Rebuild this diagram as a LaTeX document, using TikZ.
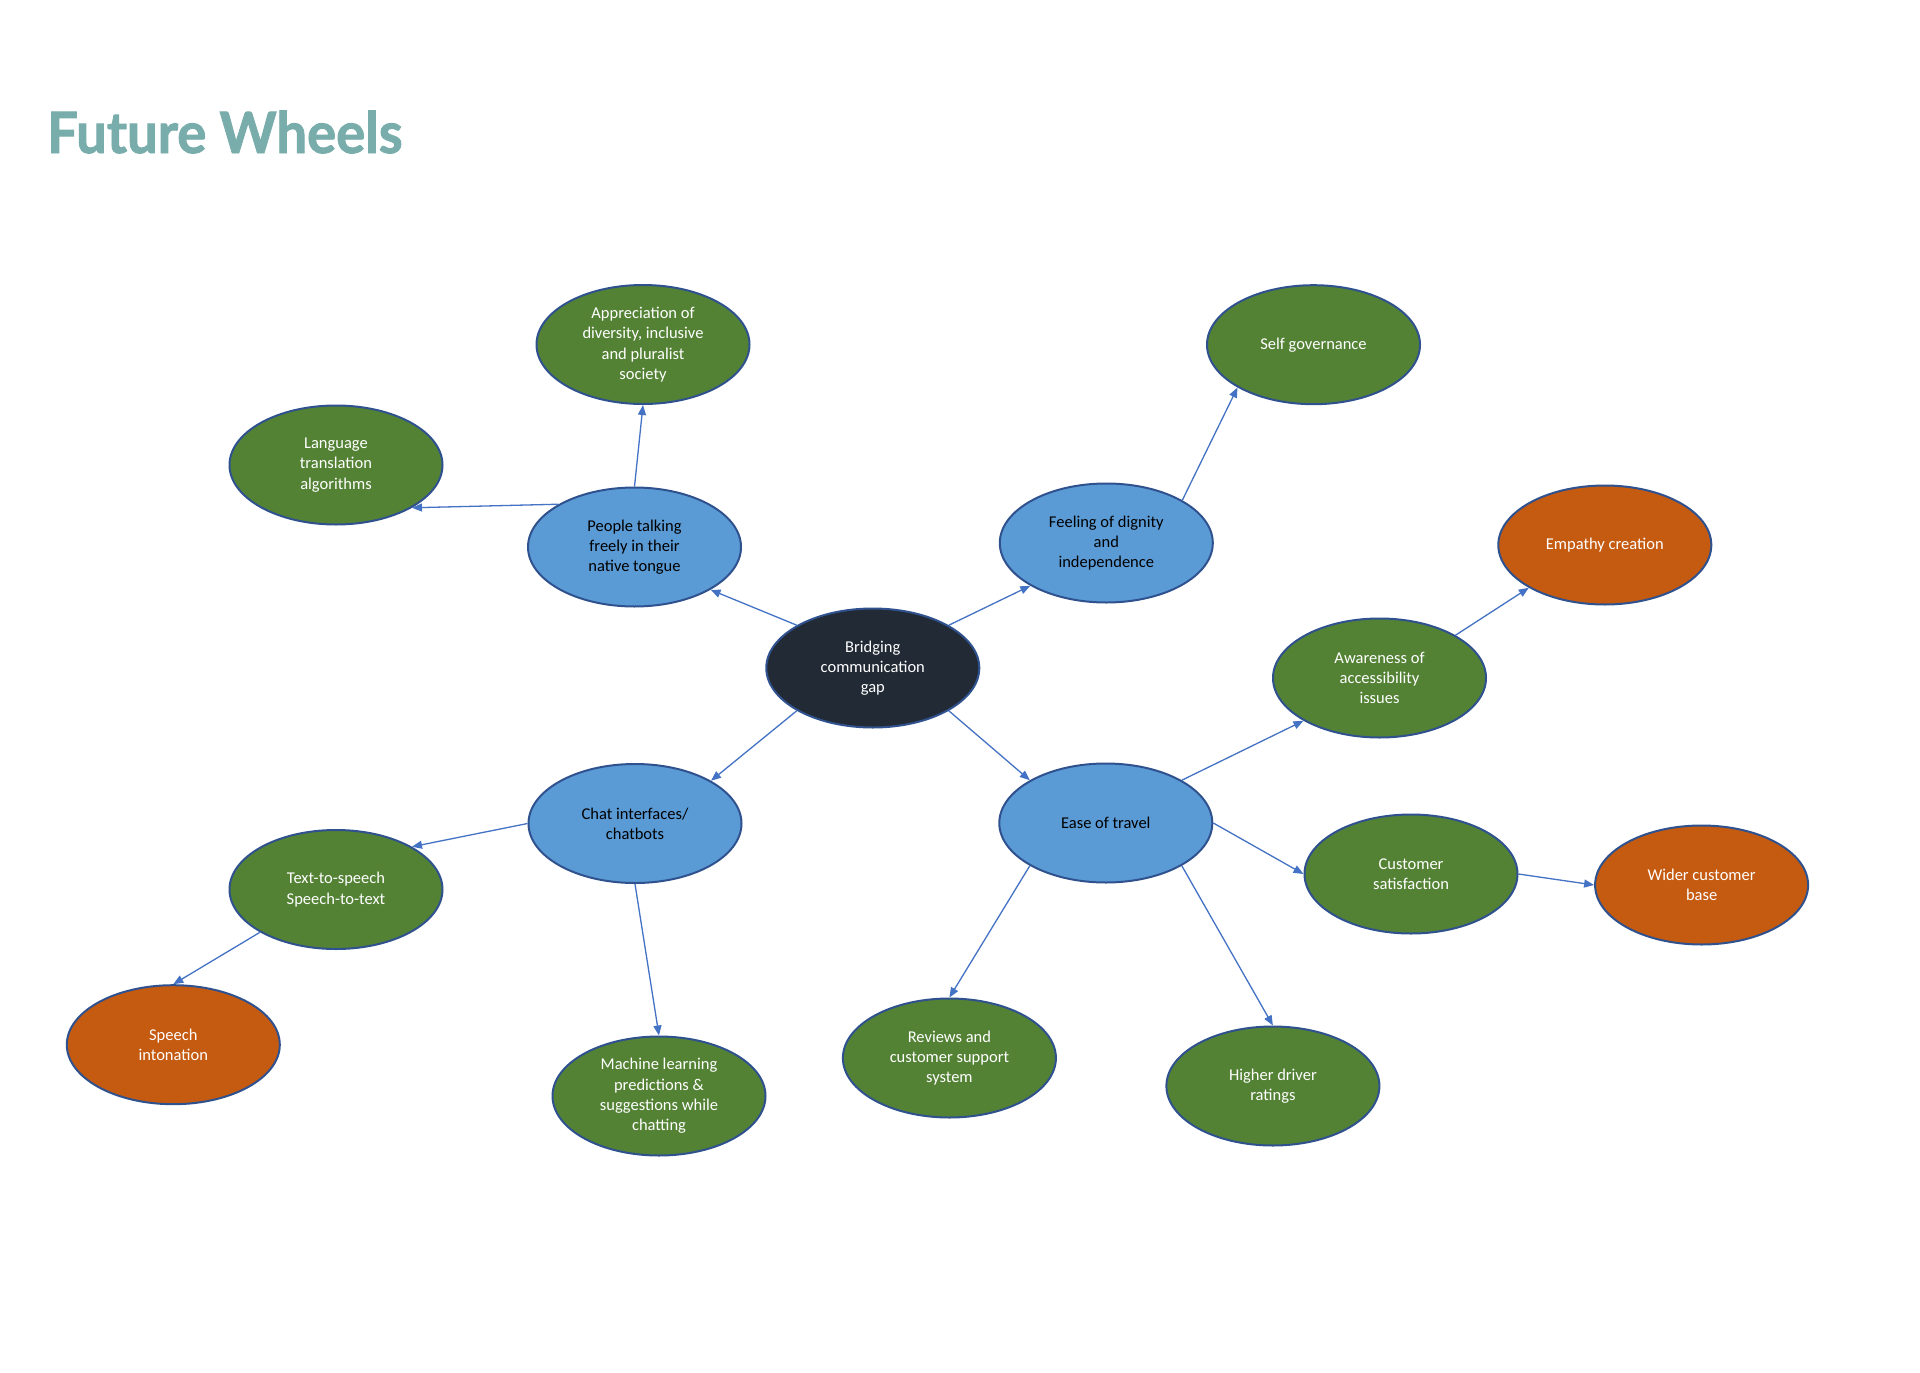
\documentclass[tikz,border=0pt]{standalone}
\usepackage{fontspec}
\setmainfont{Carlito}
\newfontfamily\titlefont{Lato}[BoldFeatures={FakeBold=1.6}]
\usetikzlibrary{shapes.geometric,arrows.meta}
\definecolor{gfill}{RGB}{84,130,53}
\definecolor{bfill}{RGB}{91,155,213}
\definecolor{ofill}{RGB}{197,90,17}
\definecolor{dfill}{RGB}{34,42,53}
\definecolor{edge}{RGB}{47,82,143}
\definecolor{arr}{RGB}{68,114,196}
\definecolor{ttl}{RGB}{121,173,172}
\begin{document}
\begin{tikzpicture}[x=1pt,y=-1pt,
 bubble/.style={ellipse, draw=edge, line width=2pt, minimum width=213pt, minimum height=119pt, inner sep=0pt, align=center, font=\fontsize{16.5}{20.3}\selectfont},
 gbub/.style={bubble, fill=gfill, text=white},
 bbub/.style={bubble, fill=bfill, text=black},
 obub/.style={bubble, fill=ofill, text=white},
 dbub/.style={bubble, fill=dfill, text=white},
 link/.style={draw=arr, line width=1.3pt, -{Triangle[length=10pt,width=8pt]}}]
\fill[white] (0,0) rectangle (1920,1373);
\useasboundingbox (0,0) rectangle (1920,1373);
\node[anchor=base west, text=ttl, font=\titlefont\bfseries\fontsize{57}{60}\selectfont, inner sep=0pt, xscale=0.955] (title) at (47,153) {Future Wheels};
\node[dbub] (bridge) at (872.8,668) {Bridging\\communication\\gap};
\node[bbub] (people) at (634.5,547) {People talking\\freely in their\\native tongue};
\node[bbub] (dignity) at (1106.3,543) {Feeling of dignity\\and\\independence};
\node[bbub] (chat) at (635,823.5) {Chat interfaces/\\chatbots};
\node[bbub] (ease) at (1105.8,823) {Ease of travel};
\node[gbub] (appr) at (643,344.5) {Appreciation of\\diversity, inclusive\\and pluralist\\society};
\node[gbub] (lang) at (336,465) {Language\\translation\\algorithms};
\node[gbub] (self) at (1313.5,344.7) {Self governance};
\node[obub] (empathy) at (1604.8,545) {Empathy creation};
\node[gbub] (aware) at (1379.5,678) {Awareness of\\accessibility\\issues};
\node[gbub] (tts) at (336,889.5) {Text-to-speech\\Speech-to-text};
\node[obub] (inton) at (173.3,1044.7) {Speech\\intonation};
\node[gbub] (ml) at (659,1096) {Machine learning\\predictions \&\\suggestions while\\chatting};
\node[gbub] (review) at (949.4,1058) {Reviews and\\customer support\\system};
\node[gbub] (driver) at (1272.9,1086) {Higher driver\\ratings};
\node[gbub] (cust) at (1411,874) {Customer\\satisfaction};
\node[obub] (wider) at (1701.6,885) {Wider customer\\base};
\draw[link] (bridge.north west) -- (people.south east);
\draw[link] (bridge.north east) -- (dignity.south west);
\draw[link] (bridge.south west) -- (chat.north east);
\draw[link] (bridge.south east) -- (ease.north west);
\draw[link] (people.north) -- (appr.south);
\draw[link] (people.north west) -- (lang.south east);
\draw[link] (dignity.north east) -- (self.south west);
\draw[link] (ease.north east) -- (aware.south west);
\draw[link] (aware.north east) -- (empathy.south west);
\draw[link] (ease.east) -- (cust.west);
\draw[link] (cust.east) -- (wider.west);
\draw[link] (ease.south west) -- (review.north);
\draw[link] (ease.south east) -- (driver.north);
\draw[link] (chat.west) -- (tts.north east);
\draw[link] (chat.south) -- (ml.north);
\draw[link] (tts.south west) -- (inton.north);
\end{tikzpicture}
\end{document}
